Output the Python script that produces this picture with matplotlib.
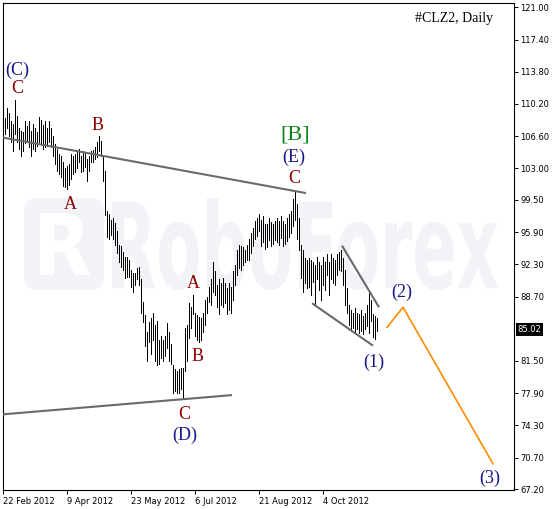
import matplotlib

matplotlib.use("Agg")
import matplotlib.pyplot as plt
import numpy as np
from matplotlib.font_manager import FontProperties
from matplotlib.patches import FancyBboxPatch, PathPatch
from matplotlib.textpath import TextPath
from matplotlib.transforms import Affine2D, IdentityTransform

# daily bars (high / low), oldest first
highs = [
    106.9, 108.6, 109.7, 109.2, 108.3, 108.0, 110.6, 108.9, 107.5, 107.2, 107.1, 108.3, 107.7,
    108.3, 107.2, 108.0, 107.5, 107.1, 108.7, 108.4, 107.8, 108.3, 107.5, 108.3, 107.5, 106.6,
    105.7, 105.2, 104.6, 104.4, 103.7, 103.0, 103.3, 103.5, 104.6, 104.4, 104.6, 104.9, 105.2,
    104.4, 104.9, 104.8, 104.1, 104.4, 105.0, 105.1, 105.4, 106.0, 106.6, 106.1, 104.4,
    102.7, 98.2, 97.9, 97.3, 97.5, 96.9, 96.0, 94.5, 94.3, 93.7, 93.1, 93.1, 92.8, 91.7, 91.3,
    91.3, 91.9, 92.0, 90.6, 88.1,
    86.6, 84.7, 85.8, 86.3, 86.9, 85.5, 86.0, 83.8, 84.3, 83.8, 84.3, 85.7, 84.7, 83.4, 81.0,
    80.6, 80.4, 80.6, 80.7, 80.7,
    85.2, 85.5, 88.0, 87.5, 88.9, 86.9, 86.6, 86.4, 86.3, 86.9, 88.3, 88.6, 89.8, 90.6, 92.6,
    91.5, 90.0, 90.6, 90.2, 90.8, 90.2, 89.6, 90.2, 89.8, 91.5, 92.2, 93.9, 94.5, 94.3, 94.2,
    93.9, 94.5, 95.1, 95.8, 96.4, 97.1, 97.5, 97.9,
    97.3, 97.7, 96.8, 96.8, 97.5, 97.0, 96.8, 97.1, 97.5, 97.1, 97.7, 97.1, 96.8, 97.5, 97.9,
    98.2, 99.6, 100.5, 99.0, 97.5,
    94.5, 93.9, 93.0, 92.8, 93.0, 92.8, 92.6, 92.2, 93.1, 92.6, 92.2, 93.1, 92.6, 93.4, 92.6,
    93.4, 93.0, 92.8, 93.4, 93.7, 93.9, 93.0, 91.7, 89.6, 87.7, 87.2, 86.9, 87.4, 86.9, 86.7,
    87.2, 86.5, 86.9, 87.7, 89.1, 88.3, 86.7, 86.5, 86.3,
]
lows = [
    105.5, 106.8, 107.5, 106.6, 106.0, 104.9, 106.9, 106.0, 105.2, 104.4, 105.0, 105.8, 106.0,
    105.4, 104.4, 105.2, 105.0, 105.5, 106.0, 105.8, 105.2, 105.4, 105.5, 106.0, 105.4, 104.4,
    103.5, 102.7, 102.4, 102.0, 101.0, 100.9, 100.7, 101.1, 101.8, 102.4, 102.6, 103.0, 103.7,
    102.6, 102.7, 103.2, 101.6, 102.7, 103.7, 103.7, 104.1, 104.3, 104.9, 104.4, 101.6,
    97.8, 95.3, 95.1, 95.6, 95.1, 94.4, 93.6, 92.5, 92.0, 91.7, 90.8, 90.9, 90.9, 89.8, 89.2,
    90.0, 90.6, 90.0, 86.9, 85.8,
    83.2, 81.5, 83.6, 82.3, 83.8, 81.5, 81.0, 81.2, 81.8, 81.5, 82.1, 83.0, 81.5, 81.2, 77.9,
    78.1, 77.9, 77.9, 78.4, 77.2,
    80.4, 81.5, 84.1, 85.2, 86.8, 84.3, 83.8, 83.6, 83.8, 84.7, 85.5, 86.9, 88.1, 87.7, 89.2,
    88.9, 87.5, 86.8, 87.7, 87.5, 88.0, 86.8, 87.2, 86.9, 88.3, 90.0, 91.1, 91.9, 91.7, 92.2,
    92.5, 92.8, 92.8, 93.6, 94.3, 95.1, 95.5, 96.0,
    94.3, 94.8, 94.0, 94.2, 95.0, 94.3, 94.6, 95.0, 94.8, 94.5, 95.2, 94.3, 94.6, 94.9, 95.4,
    95.8, 96.6, 97.3, 95.1, 93.9,
    90.8, 89.2, 90.2, 89.6, 89.8, 88.9, 90.3, 87.7, 90.6, 89.4, 88.3, 90.0, 89.4, 91.1, 88.9,
    90.6, 90.2, 90.0, 91.1, 91.7, 91.5, 90.0, 87.7, 86.9, 85.5, 84.9, 85.2, 84.7, 85.1, 84.6,
    84.9, 84.5, 85.1, 85.4, 84.6, 86.0, 84.2, 84.0, 84.9,
]
last_close = 85.02

date_labels = ["22 Feb 2012", "9 Apr 2012", "23 May 2012", "6 Jul 2012", "21 Aug 2012", "4 Oct 2012"]
date_bars = [0, 32, 64, 96, 128, 160]

price_ticks = [121.00, 117.40, 113.80, 110.20, 106.60, 103.00, 99.50, 95.90,
               92.30, 88.70, 81.50, 77.90, 74.30, 70.70, 67.20]

# trend lines and the forecast path, as (bar index, price) points
upper_line = ([0, 151.5], [106.45, 100.25])
lower_line = ([0, 114.5], [75.54, 77.69])
wedge_top = ([169.5, 188], [94.38, 87.50])
wedge_bottom = ([154.5, 185], [87.95, 83.21])
forecast = ([192, 200, 245], [85.24, 87.50, 70.02])

# wave marks: text, bar index, price, degree
wave_labels = [
    ("(C)", 7, 114.0, "major"),
    ("C", 7, 111.9, "minor"),
    ("B", 47.5, 107.8, "minor"),
    ("A", 33.5, 99.0, "minor"),
    ("[B]", 146, 106.7, "top"),
    ("(E)", 145.5, 104.2, "major"),
    ("C", 145.5, 101.9, "minor"),
    ("A", 95, 90.1, "minor"),
    ("B", 97.5, 81.97, "minor"),
    ("C", 90.5, 75.5, "minor"),
    ("(D)", 91, 73.2, "major"),
    ("(1)", 185.5, 81.3, "major"),
    ("(2)", 199.5, 89.2, "major"),
    ("(3)", 243.5, 68.4, "major"),
]
label_style = {
    "major": ("#17178a", 13),
    "minor": ("#8b0000", 13),
    "top": ("#11801f", 16),
}

W, H = 553, 509
WM = "#f1f3f7"


def watermark(ax):
    """Faint broker logo behind the bars, placed in output pixels"""
    word = TextPath((0, 0), "RoboForex", size=100,
                    prop=FontProperties(family="DejaVu Sans", weight="bold"))
    box = word.get_extents()
    left, right, top, bottom = 112, 498, 198, 290
    tr = (Affine2D().translate(-box.x0, -box.y0)
          .scale((right - left) / box.width, (bottom - top) / box.height)
          .translate(left, H - bottom))
    ax.add_artist(PathPatch(tr.transform_path(word), transform=IdentityTransform(),
                            fc=WM, ec="none", zorder=0))

    logo = FancyBboxPatch((24, H - 290), 80, 92, boxstyle="round,pad=0,rounding_size=14",
                          transform=IdentityTransform(), fc=WM, ec="none", zorder=0)
    ax.add_artist(logo)
    r = TextPath((0, 0), "R", size=100, prop=FontProperties(family="DejaVu Sans", weight="bold"))
    rb = r.get_extents()
    tr = (Affine2D().translate(-rb.x0, -rb.y0)
          .scale(50 / rb.width, 62 / rb.height).translate(40, H - 275))
    ax.add_artist(PathPatch(tr.transform_path(r), transform=IdentityTransform(),
                            fc="white", ec="none", zorder=0))


def main():
    fig = plt.figure(figsize=(W / 100, H / 100), dpi=100)
    ax = fig.add_axes([2.5 / W, 19 / H, 511.5 / W, 487 / H])

    watermark(ax)

    bars = np.arange(len(highs))
    ax.vlines(bars, lows, highs, colors="black", linewidth=0.72, antialiased=False, zorder=2)

    for xs, ys in (upper_line, lower_line, wedge_top, wedge_bottom):
        ax.plot(xs, ys, color="#6a6a6a", lw=1.5, solid_capstyle="butt", zorder=3)
    ax.plot(*forecast, color="#ff8c00", lw=1.2, zorder=3)

    for text, bx, price, kind in wave_labels:
        colour, size = label_style[kind]
        ax.text(bx, price, text, ha="center", va="center", color=colour,
                fontsize=size, family="Liberation Serif", zorder=4)

    ax.text(0.959, 0.969, "#CLZ2, Daily", transform=ax.transAxes, ha="right", va="center",
            family="Liberation Serif", fontsize=10)

    ax.set_xlim(-0.25, 255.5)
    ax.set_ylim(67.09, 121.48)

    ax.set_xticks(date_bars)
    ax.set_xticklabels(date_labels, ha="left")
    ax.yaxis.tick_right()
    ax.set_yticks(price_ticks)
    ax.set_yticklabels([f"{p:.2f}" for p in price_ticks])
    ax.tick_params(axis="both", direction="out", length=3, width=0.7, labelsize=6)
    ax.tick_params(axis="x", pad=2)
    ax.tick_params(axis="y", pad=1.5)
    for spine in ax.spines.values():
        spine.set_linewidth(0.8)

    ax.annotate(f"{last_close:.2f}", xy=(1, last_close), xycoords=("axes fraction", "data"),
                xytext=(2.5, 0), textcoords="offset points", ha="left", va="center",
                color="white", fontsize=6, annotation_clip=False,
                bbox=dict(facecolor="black", edgecolor="none", boxstyle="square,pad=0.2"))

    plt.savefig("out.png", dpi=100)


if __name__ == "__main__":
    main()
